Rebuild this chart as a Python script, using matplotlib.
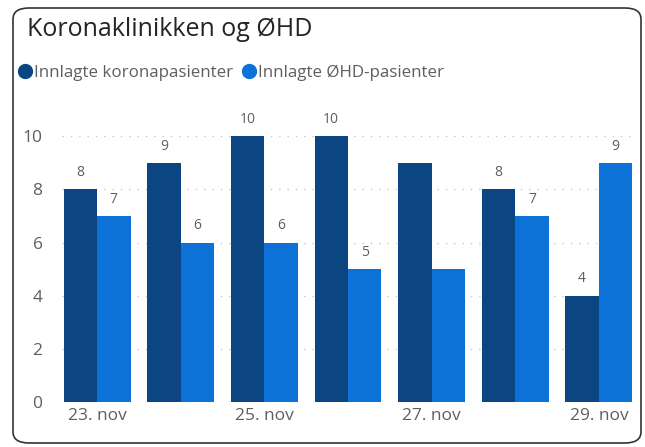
import matplotlib.pyplot as plt
from matplotlib.patches import FancyBboxPatch
from matplotlib.lines import Line2D
import numpy as np

# data
dager = ['23. nov', '24. nov', '25. nov', '26. nov', '27. nov', '28. nov', '29. nov']
korona = [8, 9, 10, 10, 9, 8, 4]
ohd = [7, 6, 6, 5, 5, 7, 9]
# Power BI skjuler etiketter på 27. nov
vis_etikett = [True, True, True, True, False, True, True]

mork = '#0b4582'
lys = '#0d72d8'
grå = '#605e5c'

plt.rcParams['font.family'] = ['Open Sans', 'DejaVu Sans']

fig = plt.figure(figsize=(6.45, 4.47), dpi=100)

# ramme med runde hjørner
ramme = FancyBboxPatch((13/645, 4/447), 628/645, 435/447,
                       boxstyle='round,pad=0,rounding_size=0.025',
                       transform=fig.transFigure, fill=False,
                       edgecolor='#333333', linewidth=1.2)
fig.patches.append(ramme)

ax = fig.add_axes([62/645, 45/447, 572/645, 287/447])
x = np.arange(len(dager))
b = 0.4
ax.bar(x - b/2, korona, b, color=mork, zorder=2)
ax.bar(x + b/2, ohd, b, color=lys, zorder=2)

for i in range(len(dager)):
    if vis_etikett[i]:
        ax.text(x[i] - b/2, korona[i] + 0.35, str(korona[i]), ha='center', va='bottom',
                fontsize=10, color=grå)
        ax.text(x[i] + b/2, ohd[i] + 0.35, str(ohd[i]), ha='center', va='bottom',
                fontsize=10, color=grå)

ax.set_xlim(-0.42, 6.42)
ax.set_ylim(0, 10.8)
ax.set_yticks([0, 2, 4, 6, 8, 10])
ax.set_xticks(x[::2])
ax.set_xticklabels(dager[::2])
ax.tick_params(length=0, labelsize=12.5, colors=grå)
ax.tick_params(axis='y', pad=14)
ax.tick_params(axis='x', pad=4)
ax.grid(axis='y', linestyle=(0, (1, 5)), color='#c8c8c8', linewidth=1, zorder=0)
for sp in ax.spines.values():
    sp.set_visible(False)

fig.text(27/645, 1 - 30/447, 'Koronaklinikken og ØHD', fontsize=18, color='#252423',
         va='center', ha='left')

handles = [Line2D([], [], marker='o', linestyle='', markersize=10, color=mork),
           Line2D([], [], marker='o', linestyle='', markersize=10, color=lys)]
fig.legend(handles, ['Innlagte koronapasienter', 'Innlagte ØHD-pasienter'],
           loc='center left', bbox_to_anchor=(13/645, 1 - 73/447), ncol=2,
           frameon=False, handlelength=0.6, handletextpad=0.25, columnspacing=0.6,
           fontsize=12.2, labelcolor=grå, borderaxespad=0)

plt.savefig('out.png', dpi=100)
